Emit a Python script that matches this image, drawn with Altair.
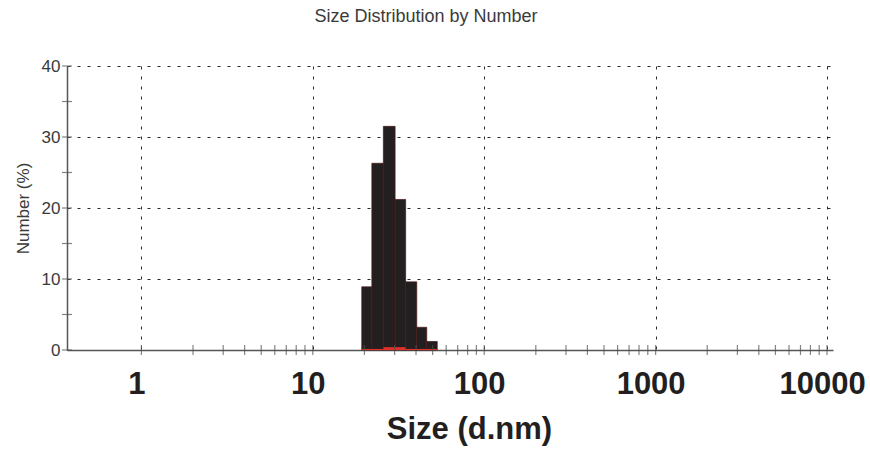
import altair as alt
import pandas as pd

title_text = "Size Distribution by Number"
x_title = "Size (d.nm)"
y_title = "Number (%)"

# histogram bins (size classes, d.nm) and values (%)
bin_edges = [19.3, 22.1, 25.8, 30.2, 34.8, 40.4, 46.2, 53.2]
number_pct = [8.9, 26.3, 31.5, 21.2, 9.6, 3.2, 1.2]
red_pct = [0.15, 0.15, 0.4, 0.4, 0.15, 0.15, 0.15]

x_major = [1, 10, 100, 1000, 10000]
x_all_ticks = [1, 2, 3, 4, 5, 6, 7, 8, 9,
               10, 20, 30, 40, 50, 60, 70, 80, 90,
               100, 200, 300, 400, 500, 600, 700, 800, 900,
               1000, 2000, 3000, 4000, 5000, 6000, 7000, 8000, 9000,
               10000]
y_major = [0, 10, 20, 30, 40]
y_all_ticks = [0, 5, 10, 15, 20, 25, 30, 35, 40]

FONT = "Liberation Sans"

bars_df = pd.DataFrame({
    "lo": bin_edges[:-1],
    "hi": bin_edges[1:],
    "v": number_pct,
    "r": red_pct,
})
xt_df = pd.DataFrame({"t": x_all_ticks, "z": [0] * len(x_all_ticks)})
yt_df = pd.DataFrame({"t": y_all_ticks})

xscale = alt.Scale(type="log", domain=[0.368, 10835], nice=False)
yscale = alt.Scale(domain=[0, 40], nice=False, zero=True)

xaxis = alt.Axis(
    values=x_major, format=".0f", grid=True, gridDash=[3, 7], gridColor="#2a2a2a",
    gridWidth=1, gridOpacity=1, ticks=False, domainColor="#555555", domainWidth=1.5,
    labelFont=FONT, labelFontSize=31, labelFontWeight="bold", labelColor="#231f20",
    labelBaseline="alphabetic", labelPadding=43, labelOffset=-5, labelFlush=False,
    labelOverlap=False,
    titleFont=FONT, titleFontSize=31, titleFontWeight="bold", titleColor="#231f20",
    titleX=402, titleY=88, titleBaseline="alphabetic", titleAlign="center",
)
yaxis = alt.Axis(
    values=y_major, grid=True, gridDash=[3, 7], gridColor="#2a2a2a", gridWidth=1,
    gridOpacity=1, ticks=False, domainColor="#555555", domainWidth=1.5,
    labelFont=FONT, labelFontSize=17, labelColor="#3a3a3a", labelPadding=7,
    titleFont=FONT, titleFontSize=17, titleFontWeight="normal", titleColor="#3a3a3a",
    titleX=-44, titleY=142, titleBaseline="middle", titleAngle=270, titleAlign="center",
)

bars = alt.Chart(bars_df).mark_rect(
    fill="#231f20", stroke="#4a1616", strokeWidth=0.7
).encode(
    x=alt.X("lo:Q", scale=xscale, axis=xaxis, title=x_title),
    x2="hi:Q",
    y=alt.Y("v:Q", scale=yscale, axis=yaxis, title=y_title),
    y2=alt.datum(0),
)

red = alt.Chart(bars_df).mark_rect(fill="#e0302a", strokeWidth=0).encode(
    x=alt.X("lo:Q", scale=xscale, axis=xaxis, title=x_title),
    x2="hi:Q",
    y=alt.Y("r:Q", scale=yscale, axis=yaxis, title=y_title),
    y2=alt.datum(0),
)

xticks = alt.Chart(xt_df).mark_tick(
    orient="vertical", size=10, thickness=1.2, color="#505050"
).encode(
    x=alt.X("t:Q", scale=xscale, axis=xaxis, title=x_title),
    y=alt.Y("z:Q", scale=yscale, axis=yaxis, title=y_title),
)

yticks = alt.Chart(yt_df).mark_tick(
    orient="horizontal", size=10, thickness=1.2, color="#505050"
).encode(
    y=alt.Y("t:Q", scale=yscale, axis=yaxis, title=y_title),
    x=alt.value(0),
)

chart = alt.layer(bars, red, xticks, yticks).properties(
    width=766,
    height=284,
    autosize="none",
    padding={"left": 67, "top": 66, "right": 37, "bottom": 100},
    title=alt.TitleParams(
        text=title_text, font=FONT, fontSize=18, fontWeight="normal",
        color="#3a3a3a", anchor="middle", frame="group", dx=-24,
        baseline="alphabetic", offset=17,
    ),
).configure(font=FONT).configure_view(strokeWidth=0)

chart.save("out.html", embed_options={"renderer": "svg", "actions": False})
